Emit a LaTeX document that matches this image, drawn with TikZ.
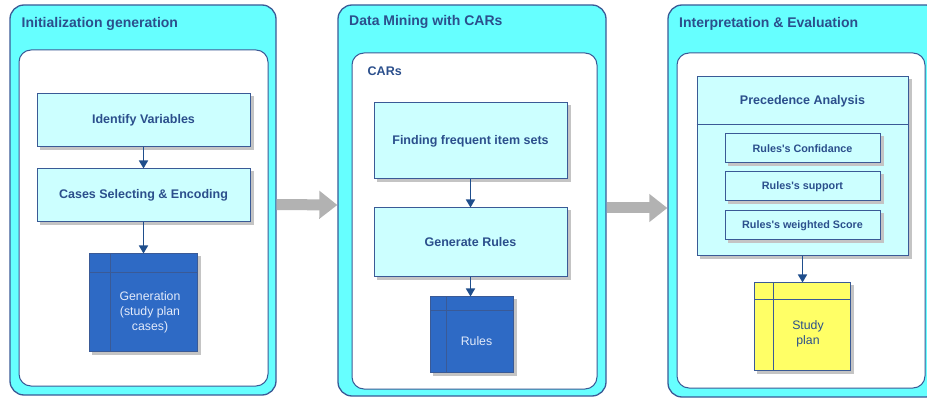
\documentclass[tikz,border=0pt]{standalone}
\usepackage{fontspec}
\setmainfont{Liberation Sans}
\usetikzlibrary{arrows.meta}
\definecolor{panelcyan}{HTML}{66FFFF}
\definecolor{edgeblue}{HTML}{3A5A96}
\definecolor{boxcyan}{HTML}{CCFFFF}
\definecolor{txtblue}{HTML}{2B4F8C}
\definecolor{docblue}{HTML}{2E6AC5}
\definecolor{docyellow}{HTML}{FFFF66}
\definecolor{doctxt}{HTML}{E2EAFA}
\definecolor{arrowgray}{HTML}{B2B2B2}
\definecolor{shadowgray}{HTML}{C4C4C4}
\definecolor{connblue}{HTML}{1F4E8C}
\pgfdeclarelayer{panels}
\pgfdeclarelayer{shadows}
\pgfsetlayers{panels,shadows,main}
\newcommand{\boxshadow}[1]{%
  \begin{pgfonlayer}{shadows}
    \fill[shadowgray] ([shift={(3pt,-3pt)}]#1.south west) rectangle ([shift={(3pt,-3pt)}]#1.north east);
  \end{pgfonlayer}}
\tikzset{
  panel/.style={draw=edgeblue, line width=1.3pt, fill=panelcyan, rounded corners=14pt, inner sep=0pt},
  innerpanel/.style={draw=edgeblue, line width=1pt, fill=white, rounded corners=12pt, inner sep=0pt},
  title/.style={anchor=west, text=txtblue, font=\fontsize{14}{16}\selectfont\bfseries, inner sep=0pt},
  stepbox/.style={draw=edgeblue, line width=1pt, fill=boxcyan, inner sep=0pt, text=txtblue,
    font=\fontsize{12.5}{15}\selectfont\bfseries, align=center},
  smallbox/.style={stepbox, font=\fontsize{10.8}{13}\selectfont\bfseries},
  docbox/.style 2 args={draw=edgeblue, line width=1pt, inner sep=0pt,
    path picture={
      \draw[edgeblue, line width=1pt]
        ([xshift=#1]path picture bounding box.north west) -- ([xshift=#1]path picture bounding box.south west)
        ([yshift=-#2]path picture bounding box.north west) -- ([yshift=-#2]path picture bounding box.north east);
    }},
  doclabel/.style={inner sep=0pt, align=center, font=\fontsize{12.3}{15}\selectfont},
  conn/.style={draw=connblue, line width=1.6pt, -{Triangle[length=8pt, width=9pt]}},
  bigarrow/.style={draw=arrowgray, line width=11pt, -{Triangle[length=18pt, width=27pt]}},
}
\begin{document}
\begin{tikzpicture}[x=1pt, y=-1pt]
\useasboundingbox (0,0) rectangle (927,398);
\begin{scope}
\clip (0,0) rectangle (927,398);

% Panels (background layer)
\begin{pgfonlayer}{panels}
\node[panel, minimum width=266pt, minimum height=390pt] (p1) at (143,200) {};
\node[innerpanel, minimum width=249pt, minimum height=336pt] (i1) at (143.5,218) {};
\node[panel, minimum width=268pt, minimum height=391pt] (p2) at (472,200.5) {};
\node[innerpanel, minimum width=245pt, minimum height=336pt] (i2) at (474.5,221) {};
\node[panel, minimum width=272pt, minimum height=392pt] (p3) at (804,201) {};
\node[innerpanel, minimum width=248pt, minimum height=335pt] (i3) at (801,220.5) {};
\end{pgfonlayer}

% Panel 1
\node[title] (t1) at (21.5,24) {Initialization generation};
\node[stepbox, minimum width=213pt, minimum height=53pt] (idv) at (143.5,120.5) {Identify Variables};
\boxshadow{idv}
\node[stepbox, minimum width=213pt, minimum height=53pt] (cse) at (143.5,195.5) {Cases Selecting \& Encoding};
\boxshadow{cse}
\node[docbox={21pt}{19pt}, fill=docblue, minimum width=108pt, minimum height=97pt] (gen) at (143,302.5) {};
\boxshadow{gen}
\node[doclabel, text=doctxt] (genl) at (150,312) {Generation\\(study plan\\cases)};
\draw[conn] (idv.south) -- (idv.south |- cse.north);
\draw[conn] (cse.south) -- (cse.south |- gen.north);

% Panel 2
\node[title] (t2) at (349,22) {Data Mining with CARs};
\node[title, font=\fontsize{12.5}{15}\selectfont\bfseries] (cars) at (367.5,71) {CARs};
\node[stepbox, minimum width=193pt, minimum height=76pt] (find) at (470.5,141) {Finding frequent item sets};
\boxshadow{find}
\node[stepbox, minimum width=193pt, minimum height=69pt] (genr) at (470.5,242.5) {Generate Rules};
\boxshadow{genr}
\node[docbox={16pt}{14pt}, fill=docblue, minimum width=83pt, minimum height=75pt] (rules) at (471.5,334.5) {};
\boxshadow{rules}
\node[doclabel, text=doctxt] (rulesl) at (476.5,341) {Rules};
\draw[conn] (find.south) -- (find.south |- genr.north);
\draw[conn] (genr.south) -- (genr.south |- rules.north);

% Panel 3
\node[title] (t3) at (679,24) {Interpretation \& Evaluation};
\node[stepbox, minimum width=211pt, minimum height=179pt] (prec) at (802.5,166.5) {};
\boxshadow{prec}
\draw[edgeblue, line width=1pt] (prec.west |- 0,125) -- (prec.east |- 0,125);
\node[inner sep=0pt, text=txtblue, font=\fontsize{12.5}{15}\selectfont\bfseries] (precl) at (802.5,101.5) {Precedence Analysis};
\node[smallbox, minimum width=155pt, minimum height=29pt] (conf) at (802.5,148.5) {Rules\textquotesingle s Confidance};
\node[smallbox, minimum width=155pt, minimum height=29pt] (supp) at (802.5,186.5) {Rules\textquotesingle s support};
\node[smallbox, minimum width=155pt, minimum height=29pt] (wsc) at (802.5,225.5) {Rules\textquotesingle s weighted Score};
\node[docbox={19pt}{17pt}, fill=docyellow, minimum width=96pt, minimum height=87pt] (study) at (802,326.5) {};
\boxshadow{study}
\node[doclabel, text=txtblue] (studyl) at (808,334) {Study\\plan};
\draw[conn] (prec.south) -- (prec.south |- study.north);
% small box shadows (on top of precedence box)
\foreach \b in {conf,supp,wsc} {
  \fill[shadowgray] ([shift={(3pt,-3pt)}]\b.south west) rectangle ([shift={(3pt,0pt)}]\b.south east);
  \fill[shadowgray] ([shift={(0pt,-3pt)}]\b.north east) rectangle ([shift={(3pt,-3pt)}]\b.south east);
}

% Gray flow arrows
\draw[bigarrow] ([yshift=-4.5pt]p1.east) -- ([yshift=-4.5pt]p2.west);
\draw[bigarrow] ([yshift=-7.5pt]p2.east) -- ([yshift=-7pt]p3.west);
\end{scope}
\end{tikzpicture}
\end{document}
